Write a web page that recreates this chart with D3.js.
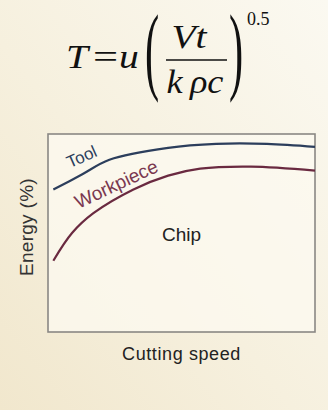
<!DOCTYPE html>
<html>
<head>
<meta charset="utf-8">
<script src="https://cdn.jsdelivr.net/npm/d3@7"></script>
<style>
  html, body { margin: 0; padding: 0; }
  body { width: 328px; height: 410px; overflow: hidden; }
</style>
</head>
<body>
<div id="chart"></div>
<script>
// Curve readings (cutting speed 0-100, energy % 0-100)
const toolSpeed = [2, 12, 23, 45, 63, 82, 100];
const toolEnergy = [72, 79, 87, 93, 95, 95, 93.5];
const workSpeed = [2, 9, 17, 32, 45, 57, 76, 100];
const workEnergy = [36, 50, 60, 72, 79, 82.5, 83.5, 81.5];

const W = 328, H = 410;
const margin = { top: 134, right: 13, bottom: 78, left: 48 };

const svg = d3.select("#chart").append("svg")
  .attr("width", W)
  .attr("height", H);

// background wash
const defs = svg.append("defs");
const bg = defs.append("linearGradient")
  .attr("id", "bg")
  .attr("x1", "100%").attr("y1", "0%")
  .attr("x2", "0%").attr("y2", "100%");
bg.append("stop").attr("offset", "0%").attr("stop-color", "#fbf9f1");
bg.append("stop").attr("offset", "55%").attr("stop-color", "#f6f0de");
bg.append("stop").attr("offset", "100%").attr("stop-color", "#f1e7cd");

svg.append("rect")
  .attr("width", W).attr("height", H)
  .attr("fill", "url(#bg)");

// ---- equation T = u (Vt / k rho c)^0.5  (glyphs are a bit wide in the original)
const eq = svg.append("g")
  .attr("font-family", "'Liberation Serif', 'Times New Roman', serif")
  .attr("font-style", "italic")
  .attr("fill", "#111");

function eqText(px, py, str, size, opts) {
  opts = opts || {};
  const t = eq.append("text")
    .attr("transform", "translate(" + px + "," + py + ") scale(" + (opts.sx || 1.2) + "," + (opts.sy || 1) + ")")
    .attr("font-size", size)
    .text(str);
  if (opts.anchor) t.attr("text-anchor", opts.anchor);
  if (opts.upright) t.attr("font-style", "normal");
  return t;
}

eqText(66, 68, "T", 33);
eqText(93, 68, "=", 33, { upright: true, sx: 1.35 });
eqText(119, 68, "u", 33);
eqText(145, 82, "(", 34, { upright: true, sx: 1.25, sy: 2.85 });
eqText(229, 82, ")", 34, { upright: true, sx: 1.25, sy: 2.85 });
eqText(189, 48, "Vt", 33, { anchor: "middle" });
eq.append("line")
  .attr("x1", 166).attr("x2", 227).attr("y1", 60).attr("y2", 60)
  .attr("stroke", "#111").attr("stroke-width", 1.6);
eqText(195, 93, "k\u2009ρc", 33, { anchor: "middle", sx: 1.1 });
eqText(247, 25, "0.5", 18, { upright: true, sx: 1 });

// ---- chart
const x = d3.scaleLinear().domain([0, 100]).range([margin.left, W - margin.right]);
const y = d3.scaleLinear().domain([0, 100]).range([H - margin.bottom, margin.top]);

svg.append("rect")
  .attr("x", x(0)).attr("y", y(100))
  .attr("width", x(100) - x(0)).attr("height", y(0) - y(100))
  .attr("fill", "#fcf9f0")
  .attr("fill-opacity", 0.75)
  .attr("stroke", "#8a8884")
  .attr("stroke-width", 1.6);

const line = d3.line()
  .x(d => x(d[0]))
  .y(d => y(d[1]))
  .curve(d3.curveCatmullRom.alpha(0.5));

svg.append("path")
  .datum(d3.zip(toolSpeed, toolEnergy))
  .attr("d", line)
  .attr("fill", "none")
  .attr("stroke", "#2c3e5c")
  .attr("stroke-width", 2.2);

svg.append("path")
  .datum(d3.zip(workSpeed, workEnergy))
  .attr("d", line)
  .attr("fill", "none")
  .attr("stroke", "#6a2a40")
  .attr("stroke-width", 2.2);

const sans = "'Liberation Sans', Arial, Helvetica, sans-serif";

svg.append("text")
  .attr("transform", "translate(84,162) rotate(-24)")
  .attr("text-anchor", "middle")
  .attr("font-family", sans).attr("font-size", 17)
  .attr("fill", "#2c3e5c")
  .text("Tool");

svg.append("text")
  .attr("transform", "translate(119,190) rotate(-25)")
  .attr("text-anchor", "middle")
  .attr("font-family", sans).attr("font-size", 19)
  .attr("fill", "#7a3850")
  .text("Workpiece");

svg.append("text")
  .attr("x", x(50)).attr("y", y(46))
  .attr("text-anchor", "middle")
  .attr("font-family", sans).attr("font-size", 19)
  .attr("fill", "#222")
  .text("Chip");

svg.append("text")
  .attr("x", x(50)).attr("y", 360)
  .attr("text-anchor", "middle")
  .attr("font-family", sans).attr("font-size", 18)
  .attr("letter-spacing", 0.6)
  .attr("fill", "#222")
  .text("Cutting speed");

svg.append("text")
  .attr("transform", "translate(33," + y(53) + ") rotate(-90)")
  .attr("text-anchor", "middle")
  .attr("font-family", sans).attr("font-size", 19)
  .attr("letter-spacing", 0.3)
  .attr("fill", "#333")
  .text("Energy (%)");
</script>
</body>
</html>
